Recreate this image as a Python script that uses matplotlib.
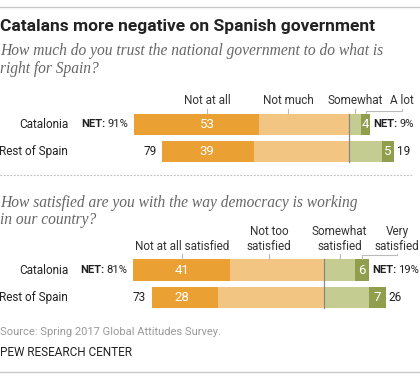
import matplotlib.pyplot as plt
from matplotlib.lines import Line2D

# data
rows = ["Catalonia", "Rest of Spain"]

trust_not_at_all = [53, 39]
trust_not_much = [38, 40]
trust_somewhat = [5, 14]
trust_a_lot = [4, 5]
trust_neg_net = [91, 79]
trust_pos_net = [9, 19]

dem_not_at_all = [41, 28]
dem_not_too = [40, 45]
dem_somewhat = [13, 19]
dem_very = [6, 7]
dem_neg_net = [81, 73]
dem_pos_net = [19, 26]

C_DARK_OR = "#EAA033"
C_LIGHT_OR = "#F3C582"
C_LIGHT_GR = "#C4CC92"
C_DARK_GR = "#909E4E"

W, H = 420, 380
PX = 2.366  # pixels per percent point
ROW = 27.2  # pixels between rows
FS = 8.5
FS_NET = 8.1

plt.rcParams['font.family'] = ["Roboto", 'DejaVu Sans']

fig = plt.figure(figsize=(W / 100, H / 100), dpi=100)


def make_axes(center_px, row0_px, top_px, bot_px):
    ax = fig.add_axes([0, 1 - bot_px / H, 1, (bot_px - top_px) / H])
    ax.set_xlim(-center_px / PX, (W - center_px) / PX)
    ax.set_ylim((bot_px - row0_px) / ROW, (top_px - row0_px) / ROW)
    ax.axis("off")
    return ax


def width_data(ax, t):
    fig.canvas.draw()
    bb = t.get_window_extent()
    return (bb.x1 - bb.x0) / PX


def draw_panel(ax, neg_dark, neg_light, pos_light, pos_dark, neg_net, pos_net,
               headers, label_x, bracket_y):
    y = range(len(rows))
    h = 0.78
    neg_total = [a + b for a, b in zip(neg_dark, neg_light)]
    ax.barh(y, neg_dark, left=[-t for t in neg_total], height=h, color=C_DARK_OR)
    ax.barh(y, neg_light, left=[-b for b in neg_light], height=h, color=C_LIGHT_OR)
    ax.barh(y, pos_light, left=0, height=h, color=C_LIGHT_GR)
    ax.barh(y, pos_dark, left=pos_light, height=h, color=C_DARK_GR)
    ax.plot([0, 0], [-h / 2, len(rows) - 1 + h / 2], color="#888888", lw=0.9)

    x_row = ax.get_xlim()[0] + 68 / PX
    for i, r in enumerate(rows):
        ax.text(x_row, i, r, ha="right", va="center", fontsize=FS, color="#222222")
        ax.text(label_x, i, str(neg_dark[i]), ha="center", va="center",
                fontsize=9.5, color="white")
        ax.text(pos_light[i] + pos_dark[i] / 2, i, str(pos_dark[i]), ha="center",
                va="center", fontsize=9.5, color="white")
        left_end = -neg_total[i] - 2.3
        right_end = pos_light[i] + pos_dark[i] + 1.2
        if i == 0:
            t = ax.text(left_end, i, f"{neg_net[i]}%", ha="right", va="center",
                        fontsize=FS_NET, color="#222222")
            ax.text(left_end - width_data(ax, t) - 0.8, i, "NET:", ha="right",
                    va="center", fontsize=FS_NET, fontweight="bold", color="#222222")
            t2 = ax.text(right_end, i, "NET:", ha="left", va="center", fontsize=FS_NET,
                         fontweight="bold", color="#222222")
            ax.text(right_end + width_data(ax, t2) + 0.8, i, f"{pos_net[i]}%",
                    ha="left", va="center", fontsize=FS_NET, color="#222222")
        else:
            ax.text(left_end, i, str(neg_net[i]), ha="right", va="center",
                    fontsize=FS, color="#222222")
            ax.text(right_end, i, str(pos_net[i]), ha="left", va="center",
                    fontsize=FS, color="#222222")

    top = -h / 2
    tick_top = top - 5 / ROW
    for k, (text, hx) in enumerate(headers):
        ax.text(hx, tick_top - 1.5 / ROW, text, ha="center", va="bottom",
                fontsize=FS, color="#333333", linespacing=1.2)
        if k < 3:
            ax.plot([hx, hx], [tick_top, top - 0.6 / ROW], color="#BBBBBB", lw=0.8)
    # bracket to the last, small segment
    seg_x = pos_light[0] + pos_dark[0] / 2
    hx = headers[3][1]
    ax.plot([seg_x, seg_x, hx, hx],
            [top - 0.6 / ROW, bracket_y, bracket_y, tick_top],
            color="#BBBBBB", lw=0.8)


# rules
fig.add_artist(Line2D([0, 1], [1 - 7 / H, 1 - 7 / H], color="#C8C8C8", lw=1))
fig.add_artist(Line2D([0, 1], [1 - 372 / H, 1 - 372 / H], color="#C8C8C8", lw=1))

fig.text(0, 1 - 27 / H, "Catalans more negative on Spanish government",
         fontsize=12.5, fontweight="bold", va="center", ha="left", color="#222222")

sub_font = dict(fontsize=11.2, style="italic", family="Liberation Serif", color="#666666",
                ha="left", va="center")
fig.text(0, 1 - 51 / H, "How much do you trust the national government to do what is", **sub_font)
fig.text(0, 1 - 69 / H, "right for Spain?", **sub_font)

ax1 = make_axes(349, 124.3, 88, 170)
draw_panel(ax1, trust_not_at_all, trust_not_much, trust_somewhat, trust_a_lot,
           trust_neg_net, trust_pos_net,
           [("Not at all", -60), ("Not much", -25.8), ("Somewhat", 2.5), ("A lot", 22.4)],
           -60, -0.39 - 3 / ROW)

fig.add_artist(Line2D([0, 412 / W], [1 - 175 / H, 1 - 175 / H], color="#BBBBBB",
                      lw=0.8, ls=(0, (1.5, 1.5))))

fig.text(0, 1 - 203 / H, "How satisfied are you with the way democracy is working", **sub_font)
fig.text(0, 1 - 220 / H, "in our country?", **sub_font)

ax2 = make_axes(324.3, 270, 222, 315)
draw_panel(ax2, dem_not_at_all, dem_not_too, dem_somewhat, dem_very,
           dem_neg_net, dem_pos_net,
           [("Not at all satisfied", -60.1), ("Not too\nsatisfied", -23.4),
            ("Somewhat\nsatisfied", 6.5), ("Very\nsatisfied", 30.7)],
           -60.1, -0.39 - 4 / ROW)

fig.text(0, 1 - 332 / H, "Source: Spring 2017 Global Attitudes Survey.",
         fontsize=8, color="#999999", ha="left", va="center")
fig.text(0, 1 - 352 / H, "PEW RESEARCH CENTER", fontsize=8.5, color="#222222",
         ha="left", va="center")

fig.savefig("out.png", dpi=100)
